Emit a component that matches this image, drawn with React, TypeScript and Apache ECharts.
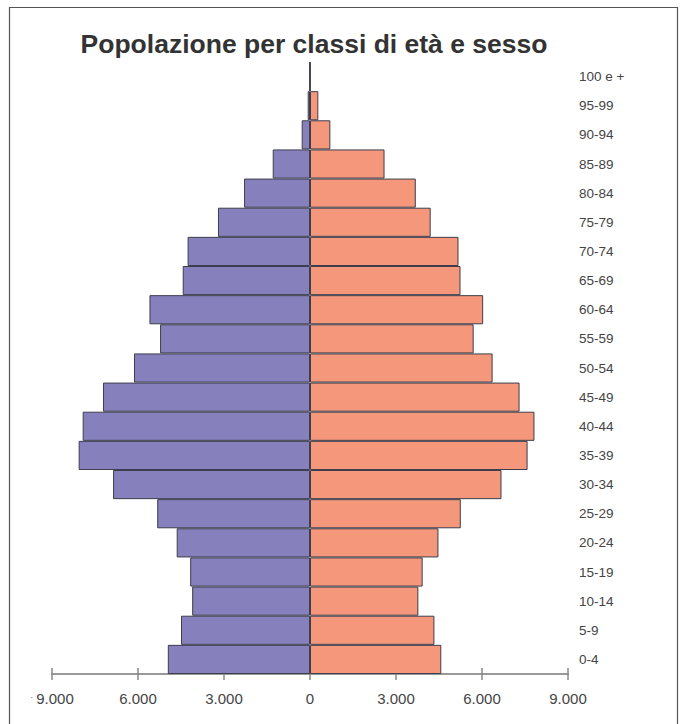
import React, { useEffect, useRef } from "react";
import * as echarts from "echarts";

const categories = ["0-4","5-9","10-14","15-19","20-24","25-29","30-34","35-39","40-44","45-49","50-54","55-59","60-64","65-69","70-74","75-79","80-84","85-89","90-94","95-99","100 e +"];
const males = [4960,4500,4110,4180,4650,5330,6870,8070,7930,7220,6140,5230,5600,4440,4270,3210,2300,1300,290,80,10];
const females = [4580,4340,3780,3930,4480,5260,6680,7590,7830,7310,6370,5710,6040,5250,5180,4210,3690,2600,710,290,10];
const title = "Popolazione per classi di età e sesso";

const FONT = "'Liberation Sans', Arial, Helvetica, sans-serif";

function fmt(v: number): string {
  const a = Math.abs(v);
  const s = String(a).replace(/\B(?=(\d{3})+(?!\d))/g, ".");
  if (v === -9000) return "{d|·}" + s;
  return s;
}

export default function App() {
  const ref = useRef<HTMLDivElement>(null);
  useEffect(() => {
    if (!ref.current) return;
    const chart = echarts.init(ref.current, undefined, { renderer: "svg" });
    chart.setOption({
      animation: false,
      backgroundColor: "#ffffff",
      title: {
        text: title,
        left: 309,
        top: 25,
        textAlign: "center",
        textStyle: { fontFamily: FONT, fontSize: 26.5, fontWeight: "bold", color: "#333333" },
      },
      graphic: [
        {
          type: "rect",
          shape: { x: 9.5, y: 7.5, width: 668, height: 740 },
          style: { fill: "none", stroke: "#555555", lineWidth: 1.2 },
          silent: true,
        },
      ],
      grid: { left: 52, right: 113, top: 62, bottom: 50, containLabel: false },
      xAxis: [
        {
          type: "value",
          min: -9000,
          max: 9000,
          interval: 3000,
          splitLine: { show: false },
          axisLine: { show: true, lineStyle: { color: "#999999", width: 2 } },
          axisTick: { show: true, length: 6, lineStyle: { color: "#888888", width: 1.5 } },
          axisLabel: {
            formatter: fmt,
            margin: 17,
            fontFamily: FONT,
            fontSize: 15,
            color: "#444444",
            rich: { d: { fontSize: 9, color: "#666666", padding: [0, 3, 4, 0] } },
          },
        },
        {
          type: "value",
          min: -9000,
          max: 9000,
          interval: 3000,
          position: "bottom",
          splitLine: { show: false },
          axisLine: { show: false },
          axisTick: { show: true, inside: true, length: 6, lineStyle: { color: "#888888", width: 1.5 } },
          axisLabel: { show: false },
        },
      ],
      yAxis: {
        type: "category",
        data: categories,
        position: "right",
        axisLine: { show: false },
        axisTick: { show: false },
        splitLine: { show: false },
        axisLabel: {
          margin: 11,
          align: "left",
          fontFamily: FONT,
          fontSize: 13.5,
          color: "#444444",
        },
      },
      series: [
        {
          name: "Maschi",
          type: "bar",
          stack: "pop",
          xAxisIndex: 0,
          barCategoryGap: 0,
          data: males.map((v) => -v),
          itemStyle: { color: "#8680BC", borderColor: "#3d3d4d", borderWidth: 1 },
        },
        {
          name: "Femmine",
          type: "bar",
          stack: "pop",
          xAxisIndex: 0,
          barCategoryGap: 0,
          data: females,
          itemStyle: { color: "#F4977A", borderColor: "#3d3d4d", borderWidth: 1 },
        },
      ],
    });
    return () => chart.dispose();
  }, []);
  return (
    <div
      ref={ref}
      style={{ position: "fixed", left: 0, top: 0, width: 681, height: 724 }}
    />
  );
}
